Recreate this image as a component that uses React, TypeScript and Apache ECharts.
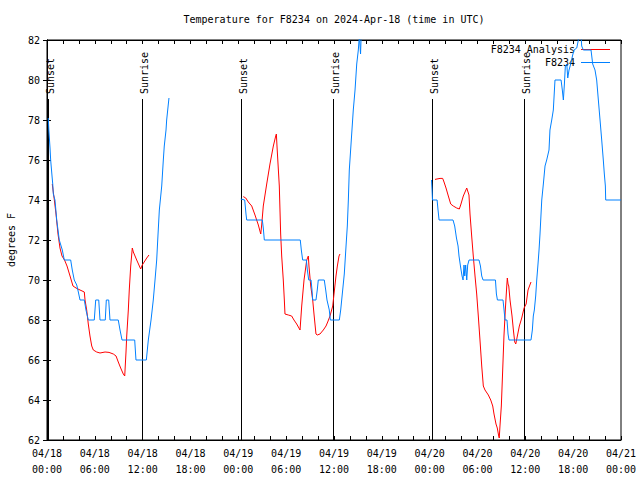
import React, { useEffect, useRef } from "react";
import * as echarts from "echarts";

// hours since 2024-04-18 00:00 UTC, temperature in degrees F
const obsNight1: [number, number][] = [
  [0.16, 78.1], [0.23, 77.5], [0.38, 76.6], [0.46, 76], [0.63, 75.2], [0.72, 74.8], [0.79, 74.3], [1.0, 74],
  [1.22, 73], [1.54, 72], [1.92, 71.5], [2.17, 71], [2.97, 71], [3.17, 70.5], [3.42, 70], [3.73, 69.75],
  [3.93, 69.4], [4.14, 69], [4.68, 69], [4.89, 68.5], [5.18, 68], [5.93, 68], [6.11, 69], [6.49, 69],
  [6.65, 68], [7.31, 68], [7.44, 69], [7.74, 69], [7.9, 68], [8.94, 68], [9.16, 67.5], [9.41, 67],
  [11.0, 67], [11.16, 66], [12.46, 66], [12.71, 67], [13.05, 68], [13.33, 69], [13.55, 70], [13.76, 71],
  [13.89, 72], [14.09, 73.5], [14.39, 74.7], [14.59, 76], [14.71, 76.7], [14.93, 77.5], [15.01, 78],
  [15.22, 78.8], [15.3, 79.1],
];
const obsNight2: [number, number][] = [
  [24.3, 74.05], [24.8, 74], [24.96, 73.3], [25.05, 73], [27.01, 73], [27.13, 72.6], [27.26, 72], [31.77, 72],
  [31.9, 71.5], [32.07, 71], [32.53, 71], [32.66, 70.5], [32.83, 70], [33.12, 70], [33.24, 69.5], [33.33, 69],
  [33.74, 69], [33.9, 69.5], [34.03, 70], [34.78, 70], [34.96, 69.5], [35.12, 69], [35.41, 68.5], [35.54, 68],
  [36.67, 68], [36.84, 68.5], [37.04, 69.3], [37.29, 70.3], [37.51, 71.7], [37.67, 72.7], [37.8, 74],
  [37.92, 75.5], [38.22, 77.3], [38.42, 78.5], [38.64, 79.5], [38.85, 80.8], [39.05, 81.5], [39.18, 82.2],
  [39.33, 81.3], [39.43, 82.5],
];
const obsNight3: [number, number][] = [
  [48.23, 75], [48.3, 74.5], [48.35, 74], [48.93, 74], [49.05, 73.5], [49.18, 73], [50.93, 73], [51.14, 72.7],
  [51.36, 72.1], [51.56, 71.7], [51.68, 71.2], [51.86, 70.7], [52.06, 70.2], [52.19, 70], [52.31, 70.75],
  [52.4, 70.2], [52.52, 70.75], [52.65, 70], [52.77, 70.75], [52.94, 71], [54.19, 71], [54.37, 70.7],
  [54.53, 70.2], [54.7, 70], [56.25, 70], [56.37, 69.3], [56.5, 69], [57.2, 69], [57.33, 68.5], [57.45, 68],
  [57.7, 68], [57.83, 67.3], [57.95, 67], [60.71, 67], [60.88, 67.5], [61.0, 68.2], [61.13, 68.5],
  [61.3, 69.2], [61.43, 70], [61.59, 70.8], [61.72, 71.5], [61.84, 72.3], [62.06, 74], [62.26, 74.8],
  [62.47, 75.7], [62.68, 76], [62.97, 76.5], [63.09, 77.5], [63.31, 78], [63.51, 78.5], [63.72, 80],
  [64.48, 80], [64.64, 79.5], [64.77, 79], [64.9, 79.8], [65.02, 80.7], [65.2, 80.8], [65.32, 80.1],
  [65.48, 80.5], [65.69, 80.8], [65.94, 81.25], [66.11, 81.5], [66.45, 81.6], [66.65, 82], [66.73, 82.5],
  [66.98, 82.3], [67.07, 81.7], [67.27, 81.5], [68.24, 81.5], [68.45, 80.8], [68.74, 80.5], [68.95, 80],
  [69.16, 79], [69.37, 78], [69.58, 77], [69.78, 76], [69.91, 75.3], [70.04, 74.7], [70.08, 74], [72.0, 74],
];
const anaNight1: [number, number][] = [
  [0.66, 74.8], [0.92, 74], [1.13, 73.3], [1.38, 72.3], [1.63, 71.6], [1.88, 71.2], [2.2, 71], [2.51, 70.7],
  [2.89, 70.2], [3.26, 69.7], [3.64, 69.6], [4.14, 69.5], [4.68, 69.4], [4.77, 69], [4.98, 68.5], [5.18, 67.8],
  [5.39, 67.2], [5.61, 66.7], [5.81, 66.5], [6.23, 66.4], [6.65, 66.35], [7.28, 66.4], [7.78, 66.38],
  [8.32, 66.3], [8.66, 66.2], [8.94, 65.9], [9.24, 65.6], [9.57, 65.3], [9.75, 65.2], [9.91, 66.4],
  [10.0, 67.2], [10.2, 68.5], [10.32, 69.5], [10.5, 70.7], [10.7, 71.6], [10.83, 71.4], [11.25, 71],
  [11.75, 70.55], [11.95, 70.75], [12.51, 71.1], [12.79, 71.25],
];
const anaNight2: [number, number][] = [
  [24.62, 74.17], [24.93, 74.1], [25.25, 73.9], [25.68, 73.7], [26.09, 73.25], [26.51, 72.75], [26.81, 72.3],
  [26.93, 72.75], [27.13, 73.7], [27.56, 74.8], [27.97, 75.8], [28.39, 76.7], [28.69, 77.2], [28.77, 77.3],
  [28.85, 76.7], [29.14, 74.7], [29.31, 72.3], [29.44, 71.2], [29.64, 70], [29.77, 69], [29.85, 68.3],
  [30.27, 68.25], [30.69, 68.2], [30.98, 68], [31.32, 67.8], [31.74, 67.5], [31.95, 68.7], [32.24, 70],
  [32.58, 71], [32.78, 71.2], [32.86, 70.7], [33.08, 69.7], [33.33, 69], [33.49, 68.3], [33.74, 67.3],
  [33.9, 67.25], [34.24, 67.3], [34.66, 67.5], [35.0, 67.7], [35.21, 67.9], [35.5, 68.2], [35.84, 68.7],
  [36.0, 69.3], [36.25, 70.2], [36.42, 70.7], [36.63, 71.2], [36.75, 71.3],
];
const anaNight3: [number, number][] = [
  [48.67, 75.03], [49.3, 75.08], [49.63, 75.08], [49.8, 74.9], [50.05, 74.6], [50.34, 74.2], [50.64, 73.8],
  [50.96, 73.7], [51.39, 73.6], [51.72, 73.55], [51.89, 73.75], [52.22, 74.2], [52.65, 74.6], [52.93, 74.25],
  [53.06, 73.3], [53.27, 72.2], [53.47, 71.2], [53.69, 70.2], [53.9, 69.3], [54.1, 68.2], [54.31, 67],
  [54.53, 65.7], [54.73, 64.7], [54.94, 64.5], [55.36, 64.25], [55.66, 64], [55.91, 63.7], [56.07, 63.3],
  [56.32, 62.8], [56.48, 62.6], [56.66, 62.2], [56.73, 62.1], [56.82, 62.7], [56.99, 63.7], [57.16, 65.5],
  [57.32, 67.2], [57.49, 68.5], [57.67, 69.7], [57.74, 70.1], [57.83, 69.8], [57.92, 69.7], [58.08, 69],
  [58.33, 68.2], [58.5, 67.5], [58.67, 66.9], [58.8, 66.8], [59.0, 67.2], [59.25, 67.7], [59.55, 68.1],
  [59.84, 68.6], [60.1, 68.8], [60.34, 69.5], [60.71, 69.9],
];

const sunTimes = [0.16, 11.88, 24.3, 35.91, 48.33, 59.87];
const sunLabels = ["Sunset", "Sunrise", "Sunset", "Sunrise", "Sunset", "Sunrise"];
const sunLineTop = 79.05;

const titleText = "Temperature for F8234 on 2024-Apr-18 (time in UTC)";
const yName = "degrees F";
const seriesNames = ["F8234 Analysis", "F8234"];
const seriesColors = ["#ff0000", "#0080ff"];

const yMin = 62, yMax = 82, yStep = 2;
const xMin = 0, xMax = 72, xTickStep = 2, xLabelStep = 6;

const FONT = '"DejaVu Sans Mono", "Liberation Mono", monospace';

const pad = (n: number) => (n < 10 ? "0" + n : "" + n);

export default function App() {
  const ref = useRef<HTMLDivElement>(null);
  useEffect(() => {
    if (!ref.current) return;
    const chart = echarts.init(ref.current, undefined, { renderer: "svg" });
    const fmt = (v: number) => {
      if (Math.abs(v % xLabelStep) > 1e-6) return "";
      const day = 18 + Math.floor(v / 24);
      const hr = v % 24;
      return `04/${pad(day)}\n${pad(hr)}:00`;
    };
    const axisCommon = {
      axisLine: { show: true, lineStyle: { color: "#000", width: 1 } },
      splitLine: { show: false },
    };
    const lineSeries = (name: string, color: string, data: [number, number][]) => ({
      type: "line",
      name,
      data,
      showSymbol: false,
      symbol: "none",
      clip: true,
      lineStyle: { color, width: 1 },
      itemStyle: { color },
      z: 3,
    });
    chart.setOption({
      animation: false,
      backgroundColor: "#fff",
      textStyle: { fontFamily: FONT },
      grid: {
        left: 47, right: 19, top: 40, bottom: 40, show: true, borderColor: "#000", borderWidth: 1,
        containLabel: false, outerBoundsMode: "none",
      },
      xAxis: [
        {
          type: "value", min: xMin, max: xMax, interval: xTickStep, position: "bottom",
          ...axisCommon,
          axisTick: { show: true, inside: true, length: 4, lineStyle: { color: "#000" } },
          axisLabel: { formatter: fmt, color: "#000", fontSize: 10, fontFamily: FONT, lineHeight: 16, margin: 5, showMinLabel: true, showMaxLabel: true },
        },
        {
          type: "value", min: xMin, max: xMax, interval: xTickStep, position: "top",
          ...axisCommon,
          axisTick: { show: true, inside: true, length: 4, lineStyle: { color: "#000" } },
          axisLabel: { show: false },
        },
      ],
      yAxis: [
        {
          type: "value", min: yMin, max: yMax, interval: yStep, position: "left",
          ...axisCommon,
          name: yName, nameLocation: "middle", nameGap: 31, nameRotate: 90,
          nameTextStyle: { color: "#000", fontSize: 10, fontFamily: FONT },
          axisTick: { show: true, inside: true, length: 4, lineStyle: { color: "#000" } },
          axisLabel: { color: "#000", fontSize: 10, fontFamily: FONT, margin: 7 },
        },
        {
          type: "value", min: yMin, max: yMax, interval: yStep, position: "right",
          ...axisCommon,
          axisTick: { show: true, inside: true, length: 4, lineStyle: { color: "#000" } },
          axisLabel: { show: false },
        },
      ],
      graphic: [
        {
          type: "text", x: 334, y: 19,
          style: { text: titleText, font: `10px ${FONT}`, fill: "#000", textAlign: "center", textVerticalAlign: "middle", align: "center", verticalAlign: "middle" },
        },
        {
          type: "text", x: 575, y: 49,
          style: { text: seriesNames[0], font: `10px ${FONT}`, fill: "#000", textAlign: "right", textVerticalAlign: "middle", align: "right", verticalAlign: "middle" },
        },
        { type: "line", shape: { x1: 581, y1: 49.5, x2: 610, y2: 49.5 }, style: { stroke: seriesColors[0], lineWidth: 1 } },
        {
          type: "text", x: 575, y: 62,
          style: { text: seriesNames[1], font: `10px ${FONT}`, fill: "#000", textAlign: "right", textVerticalAlign: "middle", align: "right", verticalAlign: "middle" },
        },
        { type: "line", shape: { x1: 581, y1: 62.5, x2: 610, y2: 62.5 }, style: { stroke: seriesColors[1], lineWidth: 1 } },
      ],
      series: [
        {
          type: "custom",
          name: "sun",
          data: sunTimes.map((t) => [t, sunLineTop]),
          encode: { x: 0, y: 1 },
          clip: false,
          z: 2,
          renderItem: (params: any, api: any) => {
            const t = api.value(0);
            const top = api.coord([t, sunLineTop]);
            const bot = api.coord([t, yMin]);
            const x = Math.round(top[0]) + 0.5;
            return {
              type: "group",
              children: [
                { type: "line", shape: { x1: x, y1: top[1], x2: x, y2: bot[1] }, style: { stroke: "#000", lineWidth: 1 } },
                {
                  type: "text", x: x + 1.5, y: top[1] - 5, rotation: Math.PI / 2,
                  style: {
                    text: sunLabels[params.dataIndex], font: `10px ${FONT}`, fill: "#000",
                    textAlign: "left", textVerticalAlign: "middle", align: "left", verticalAlign: "middle",
                  },
                },
              ],
            };
          },
        },
        lineSeries(seriesNames[0], seriesColors[0], anaNight1),
        lineSeries(seriesNames[0], seriesColors[0], anaNight2),
        lineSeries(seriesNames[0], seriesColors[0], anaNight3),
        lineSeries(seriesNames[1], seriesColors[1], obsNight1),
        lineSeries(seriesNames[1], seriesColors[1], obsNight2),
        lineSeries(seriesNames[1], seriesColors[1], obsNight3),
      ],
    } as any);
    return () => chart.dispose();
  }, []);
  return <div ref={ref} style={{ position: "fixed", left: 0, top: 0, width: 640, height: 480 }} />;
}
